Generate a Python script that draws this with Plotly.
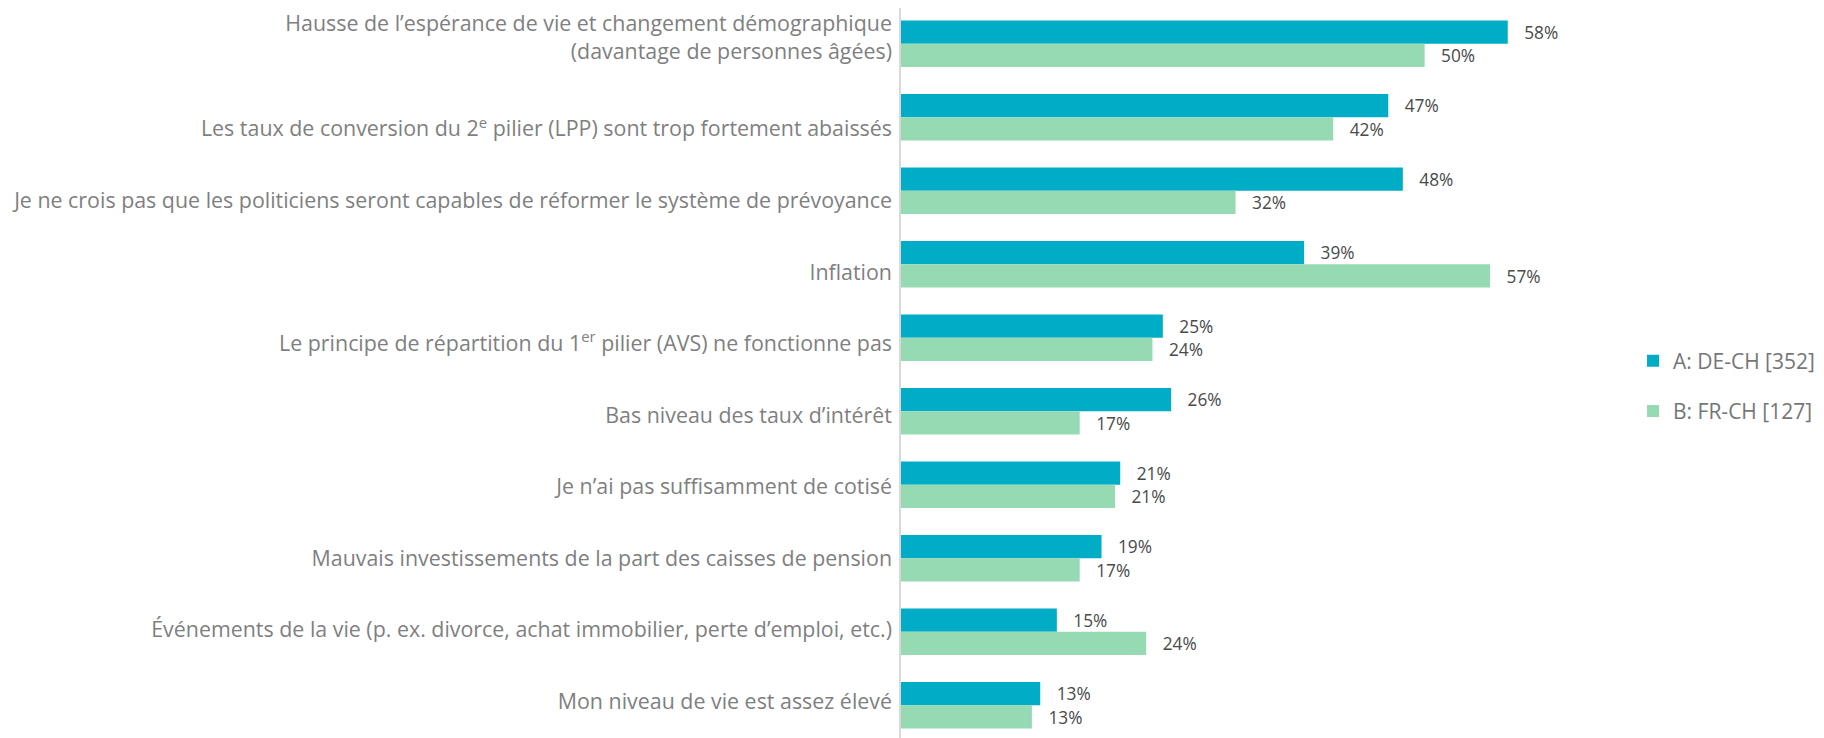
import plotly.graph_objects as go

categories = [
    "Hausse de l’espérance de vie et changement démographique<br>(davantage de personnes âgées)",
    "Les taux de conversion du 2<sup>e</sup> pilier (LPP) sont trop fortement abaissés",
    "Je ne crois pas que les politiciens seront capables de réformer le système de prévoyance",
    "Inflation",
    "Le principe de répartition du 1<sup>er</sup> pilier (AVS) ne fonctionne pas",
    "Bas niveau des taux d’intérêt",
    "Je n’ai pas suffisamment de cotisé",
    "Mauvais investissements de la part des caisses de pension",
    "Événements de la vie (p. ex. divorce, achat immobilier, perte d’emploi, etc.)",
    "Mon niveau de vie est assez élevé",
]
series_a_name = "A: DE-CH [352]"
series_b_name = "B: FR-CH [127]"
values_a = [58.4, 46.9, 48.3, 38.8, 25.2, 26.0, 21.1, 19.3, 15.0, 13.4]
values_b = [50.4, 41.6, 32.2, 56.7, 24.2, 17.2, 20.6, 17.2, 23.6, 12.6]

color_a = "#00ACC6"
color_b = "#96DAB4"
label_font = "Open Sans"
idx = list(range(len(categories)))
tickfont = dict(family=label_font, size=21.4, color="#7F7F7F")

fig = go.Figure()
for name, vals, col, grp in [(series_a_name, values_a, color_a, "a"),
                             (series_b_name, values_b, color_b, "b")]:
    fig.add_trace(go.Bar(
        y=idx, x=vals, orientation="h", name=name,
        marker=dict(color=col, line=dict(width=0)),
        texttemplate="\u00a0\u00a0\u00a0%{x:.0f}%", textposition="outside",
        textfont=dict(family="Open Sans", size=21.5, color="#4A4A4A"),
        cliponaxis=False, legendgroup=grp,
    ))
# invisible carrier traces for the label axes
fig.add_trace(go.Scatter(
    x=[0] * len(idx), y=idx, yaxis="y2", mode="markers",
    marker=dict(opacity=0), showlegend=False, hoverinfo="skip",
))
fig.add_trace(go.Scatter(
    x=[0], y=idx[:1], yaxis="y3", mode="markers",
    marker=dict(opacity=0), showlegend=False, hoverinfo="skip",
))

fig.update_layout(
    width=1816, height=730,
    margin=dict(l=893, r=235, t=0, b=0, autoexpand=False),
    paper_bgcolor="white", plot_bgcolor="white",
    barmode="group", bargap=0.366, bargroupgap=0,
    xaxis=dict(range=[0, 66.22], visible=False, fixedrange=True),
    yaxis=dict(range=[9.446, -0.486], showticklabels=False, showgrid=False,
               zeroline=False, showline=True, linecolor="#D9D9D9", linewidth=2,
               ticks="", automargin=False),
    yaxis2=dict(range=[9.517, -0.692], overlaying="y", anchor="x", side="left",
                tickvals=idx[1:], ticktext=categories[1:], showgrid=False,
                zeroline=False, showline=False, ticks="", ticklabelstandoff=8,
                ticklabeloverflow="allow", automargin=False, tickfont=tickfont),
    yaxis3=dict(range=[9.797, -0.413], overlaying="y", anchor="x", side="left",
                tickvals=idx[:1], ticktext=categories[:1], showgrid=False,
                zeroline=False, showline=False, ticks="", ticklabelstandoff=8,
                ticklabeloverflow="allow", automargin=False, tickfont=tickfont),
    showlegend=True,
    legend=dict(x=1.064, xanchor="left", y=0.482, yanchor="middle",
                traceorder="grouped", tracegroupgap=20,
                font=dict(family=label_font, size=21, color="#767676"),
                bgcolor="rgba(0,0,0,0)"),
    font=dict(family=label_font),
)

fig.write_html("out.html")
